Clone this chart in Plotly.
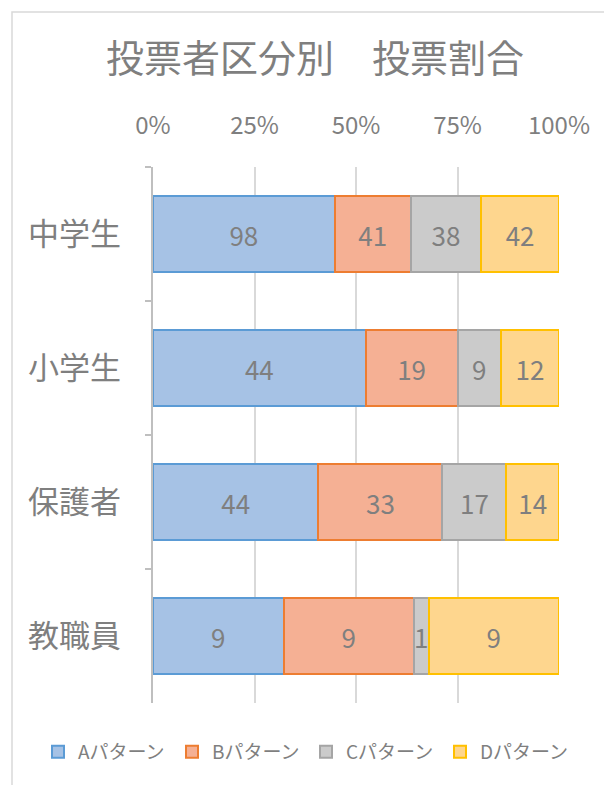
import plotly.graph_objects as go

categories = ["中学生", "小学生", "保護者", "教職員"]
series_names = ["Aパターン", "Bパターン", "Cパターン", "Dパターン"]
a_vals = [98, 44, 44, 9]
b_vals = [41, 19, 33, 9]
c_vals = [38, 9, 17, 1]
d_vals = [42, 12, 14, 9]
tick_vals = [0, 25, 50, 75, 100]
tick_text = ["0%", "25%", "50%", "75%", "100%"]

fills = ["#A6C2E5", "#F5B094", "#CBCBCB", "#FED68E"]
edges = ["#5B9BD5", "#ED7D31", "#A5A5A5", "#FFC000"]
FONT = "Noto Sans CJK JP"
TXT = "#7F7F7F"

W, H = 612, 785
OFF = 8  # page body margin offset
L, R, T, B = 153 - OFF, 559 - OFF, 167 - OFF, 703 - OFF

fig = go.Figure()
for name, vals, fc, ec in zip(series_names, [a_vals, b_vals, c_vals, d_vals], fills, edges):
    fig.add_trace(go.Bar(
        y=categories, x=vals, name=name, orientation="h",
        marker=dict(color=fc, line=dict(color=ec, width=2)),
        text=[str(v) for v in vals], textposition="inside",
        insidetextanchor="middle", textangle=0,
        insidetextfont=dict(family=FONT, size=26, color=TXT),
        hoverinfo="skip",
    ))

pw, ph = R - L, B - T
def px(x):
    return (x - OFF - L) / pw
def py(y):
    return (B - (y - OFF)) / ph

fig.update_layout(
    width=W, height=H,
    margin=dict(l=L, r=W - R, t=T, b=H - B, autoexpand=False),
    barmode="stack", barnorm="percent", bargap=0.43,
    paper_bgcolor="white", plot_bgcolor="white",
    uniformtext=dict(minsize=26, mode="show"),
    title=dict(text="投票者区分別　投票割合", x=(315 - OFF) / W, xanchor="center",
               y=1 - (59 - OFF) / H, yanchor="middle", yref="container",
               font=dict(family=FONT, size=38, color=TXT)),
    xaxis=dict(side="top", range=[0, 100], tickvals=tick_vals, ticktext=tick_text,
               showgrid=True, gridcolor="#D9D9D9", gridwidth=1.5, zeroline=False,
               showline=False, ticks="", ticklabelstandoff=27,
               tickfont=dict(family=FONT, size=24, color=TXT), fixedrange=True),
    yaxis=dict(autorange="reversed", showline=True, linecolor="#BFBFBF", linewidth=1.5,
               ticks="outside", ticklen=6, tickcolor="#BFBFBF", tickwidth=1.5,
               tickson="boundaries", showgrid=False,
               tickfont=dict(family=FONT, size=31, color=TXT), ticklabelstandoff=24),
    legend=dict(orientation="h", x=px(38), xanchor="left",
                y=py(752), yanchor="middle", traceorder="normal",
                font=dict(family=FONT, size=19, color=TXT), itemwidth=30,
                entrywidth=89, entrywidthmode="pixels"),
    shapes=[dict(type="rect", xref="paper", yref="paper",
                 x0=px(12), x1=px(W + 20), y0=py(H + 20), y1=py(12),
                 line=dict(color="#D9D9D9", width=1.5), fillcolor="rgba(0,0,0,0)",
                 layer="below")],
)

fig.write_html("out.html", config={"displayModeBar": False})
